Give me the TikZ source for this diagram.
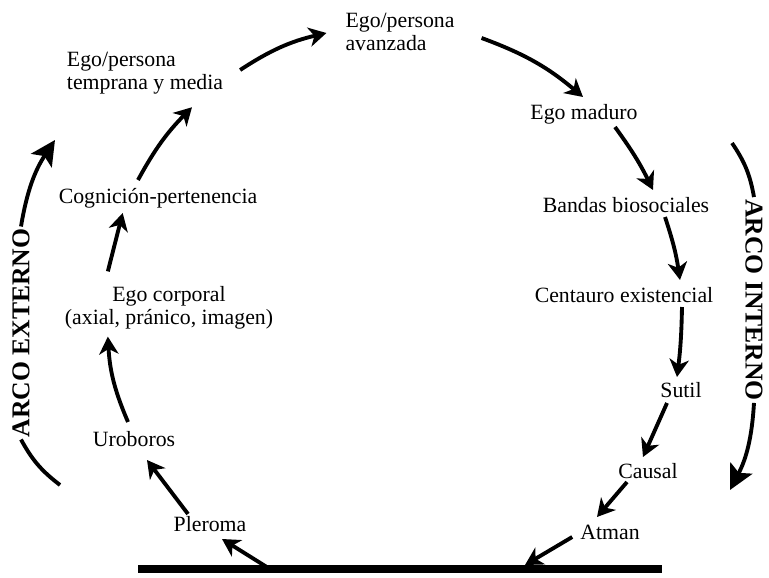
\documentclass[tikz,border=0pt]{standalone}
\usepackage{fontspec}
\setmainfont{Liberation Serif}
\usetikzlibrary{arrows.meta}

\tikzset{
	etapa/.style={inner sep=1pt, font=\fontsize{12.4}{13.2}\selectfont, text height=0.7em, text depth=0.2em},
	etapados/.style={inner sep=1pt, font=\fontsize{12.4}{13.2}\selectfont},
	arco/.style={inner sep=1pt, font=\fontsize{14.6}{16}\selectfont\bfseries},
	flecha/.style={-{Stealth[length=10pt,width=11pt,inset=3pt]}, line width=2.2pt},
	flechaarco/.style={-{Stealth[length=14pt,width=14pt,inset=3pt]}, line width=2.2pt},
	trazo/.style={line width=2.2pt}
}

\begin{document}
\begin{tikzpicture}[x=0.02cm, y=-0.02cm]
	\useasboundingbox (0,0) rectangle (769,578);
	
	% etapas del ciclo
	\node[etapados, align=left] (temprana) at (145,73) {Ego/persona\\temprana y media};
	\node[etapados, align=left] (avanzada) at (400,32) {Ego/persona\\avanzada};
	\node[etapa] (maduro) at (584,115) {Ego maduro};
	\node[etapa] (bandas) at (626,208) {Bandas biosociales};
	\node[etapa] (centauro) at (624,298) {Centauro existencial};
	\node[etapa] (sutil) at (681,393) {Sutil};
	\node[etapa] (causal) at (648,474) {Causal};
	\node[etapa] (atman) at (610,535) {Atman};
	\node[etapa] (pleroma) at (210,527) {Pleroma};
	\node[etapa] (uroboros) at (134,442) {Uroboros};
	\node[etapados, align=center] (corporal) at (169,308) {Ego corporal\\(axial, pránico, imagen)};
	\node[etapa] (cognicion) at (158,199) {Cognición-pertenencia};
	
	% arcos
	\node[arco, rotate=90] (externo) at (21,333) {ARCO EXTERNO};
	\node[arco, rotate=-90] (interno) at (754,300) {ARCO INTERNO};
	
	% base
	\coordinate (baseI) at (138,569);
	\coordinate (baseD) at (662,569);
	\coordinate (salida) at (270,569);
	\coordinate (llegada) at (525,565);
	\draw[line width=5.1pt] (baseI) -- (baseD);
	
	\path[flecha] (salida) edge ([shift={(12,2)}]pleroma.south);
	\path[flecha] ([shift={(-22,-3)}]pleroma.north) edge ([shift={(13,8)}]uroboros.south);
	\path[flecha] ([shift={(-6,-10)}]uroboros.north) edge[bend left=10] ([shift={(45,5)}]corporal.south west);
	\path[flecha] ([shift={(45,-13)}]corporal.north west) edge ([shift={(66,4)}]cognicion.south west);
	\path[flecha] ([shift={(-20,-9)}]cognicion.north) edge[bend left=8] ([shift={(47,11)}]temprana.south);
	\path[flecha] ([shift={(15,-3)}]temprana.east) edge[bend left=10] ([shift={(-17,1)}]avanzada.west);
	\path[flecha] ([shift={(25,6)}]avanzada.east) edge[bend left=10] ([shift={(-1,-8)}]maduro.north);
	\path[flecha] ([shift={(31,2)}]maduro.south) edge[bend left=5] ([shift={(27,-8)}]bandas.north);
	\path[flecha] ([shift={(39,-1)}]bandas.south) edge[bend left=5] ([shift={(56,-8)}]centauro.north);
	\path[flecha] ([shift={(58,-1)}]centauro.south) edge[bend left=3] ([shift={(-4,-6)}]sutil.north);
	\path[flecha] ([shift={(-14,0)}]sutil.south) edge ([shift={(-5,-7)}]causal.north);
	\path[flecha] ([shift={(-21,-2)}]causal.south) edge ([shift={(-13,-8)}]atman.north);
	\path[flecha] ([shift={(-6,2)}]atman.west) edge (llegada);
	
	\coordinate (extIni) at (60,485);
	\coordinate (extFin) at (55,140);
	\coordinate (intIni) at (732,143);
	\coordinate (intFin) at (730,490);
	\path[trazo] (extIni) edge[bend left=12] (externo.west);
	\path[flechaarco] (externo.east) edge[bend left=12] (extFin);
	\path[trazo] (intIni) edge[bend left=12] (interno.west);
	\path[flechaarco] (interno.east) edge[bend left=12] (intFin);
\end{tikzpicture}
\end{document}
